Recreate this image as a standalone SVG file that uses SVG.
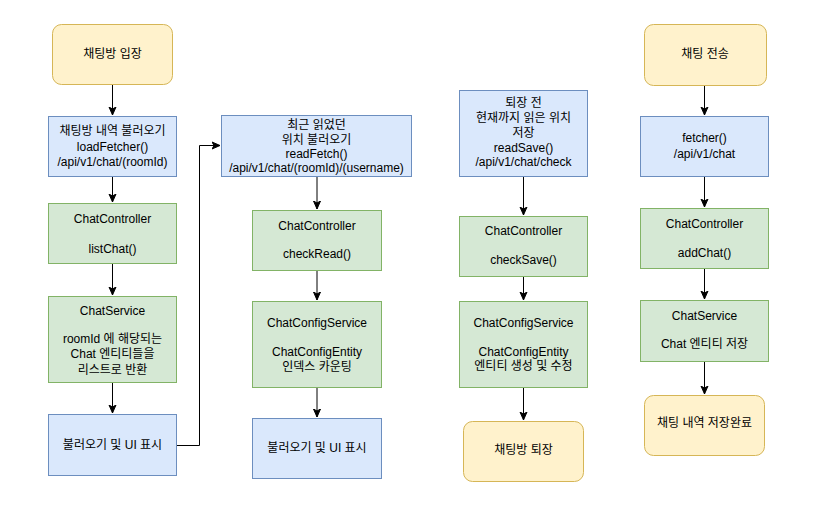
<svg xmlns="http://www.w3.org/2000/svg" width="814" height="518" viewBox="0 0 814 518">
<style>
.y{fill:#fff2cc;stroke:#d6b656;stroke-width:1}
.b{fill:#dae8fc;stroke:#6c8ebf;stroke-width:1}
.g{fill:#d5e8d4;stroke:#82b366;stroke-width:1}
text{font-family:"Liberation Sans","Noto Sans CJK KR",Arial,sans-serif;font-size:12px;fill:#000;text-anchor:middle}
.c{fill:none;stroke:#000;stroke-width:1}
</style>
<defs>
<marker id="ah" markerUnits="userSpaceOnUse" markerWidth="9" markerHeight="9" viewBox="0 0 9 9" refX="8.5" refY="4.5" orient="auto">
<path d="M0.5,1 L8.5,4.5 L0.5,8 L2.5,4.5 z" fill="#000" stroke="#000" stroke-width="1"/>
</marker>
</defs>
<rect width="814" height="518" fill="#fff"/>
<g id="connectors">
<path class="c" d="M112.5,84 V115" marker-end="url(#ah)"/>
<path class="c" d="M112.5,176 V202" marker-end="url(#ah)"/>
<path class="c" d="M112.5,263 V295" marker-end="url(#ah)"/>
<path class="c" d="M112.5,382 V413" marker-end="url(#ah)"/>
<path class="c" d="M176,445.5 H199.5 V145.5 H220" marker-end="url(#ah)"/>
<path class="c" d="M317,176 V209" marker-end="url(#ah)"/>
<path class="c" d="M317,270 V300" marker-end="url(#ah)"/>
<path class="c" d="M317,387 V417" marker-end="url(#ah)"/>
<path class="c" d="M523.5,176 V215" marker-end="url(#ah)"/>
<path class="c" d="M523.5,276 V300" marker-end="url(#ah)"/>
<path class="c" d="M523.5,387 V420" marker-end="url(#ah)"/>
<path class="c" d="M704.5,85 V115" marker-end="url(#ah)"/>
<path class="c" d="M704.5,176 V207" marker-end="url(#ah)"/>
<path class="c" d="M704.5,268 V299" marker-end="url(#ah)"/>
<path class="c" d="M704.5,361 V394" marker-end="url(#ah)"/>
</g>
<g id="n1"><rect class="y" x="52.5" y="24.5" width="120" height="60" rx="9"/><text x="112.5" y="58">채팅방 입장</text></g>
<g id="n2"><rect class="b" x="48.5" y="116.5" width="128" height="60"/><text x="112.5" y="135">채팅방 내역 불러오기</text><text x="112.5" y="150.5">loadFetcher()</text><text x="112.5" y="166">/api/v1/chat/(roomId)</text></g>
<g id="n3"><rect class="g" x="48.5" y="203.5" width="128" height="60"/><text x="112.5" y="223">ChatController</text><text x="112.5" y="253">listChat()</text></g>
<g id="n4"><rect class="g" x="48.5" y="296.5" width="128" height="86"/><text x="112.5" y="315">ChatService</text><text x="112.5" y="342.5">roomId 에 해당되는</text><text x="112.5" y="358">Chat 엔티티들을</text><text x="112.5" y="373.5">리스트로 반환</text></g>
<g id="n5"><rect class="b" x="48.5" y="414.5" width="128" height="61"/><text x="112.5" y="449">불러오기 및 UI 표시</text></g>
<g id="n6"><rect class="b" x="221.5" y="115.5" width="190" height="61"/><text x="316.5" y="128.5">최근 읽었던</text><text x="316.5" y="143.5">위치 불러오기</text><text x="316.5" y="157.5">readFetch()</text><text x="316.5" y="171.5">/api/v1/chat/(roomId)/(username)</text></g>
<g id="n7"><rect class="g" x="252.5" y="210.5" width="129" height="60"/><text x="317" y="230">ChatController</text><text x="317" y="258">checkRead()</text></g>
<g id="n8"><rect class="g" x="252.5" y="301.5" width="129" height="86"/><text x="317" y="327">ChatConfigService</text><text x="317" y="356">ChatConfigEntity</text><text x="317" y="370.5">인덱스 카운팅</text></g>
<g id="n9"><rect class="b" x="252.5" y="418.5" width="129" height="60"/><text x="317" y="452">불러오기 및 UI 표시</text></g>
<g id="n10"><rect class="b" x="459.5" y="90.5" width="128" height="86"/><text x="523.5" y="106.5">퇴장 전</text><text x="523.5" y="122">현재까지 읽은 위치</text><text x="523.5" y="137">저장</text><text x="523.5" y="151.5">readSave()</text><text x="523.5" y="166">/api/v1/chat/check</text></g>
<g id="n11"><rect class="g" x="459.5" y="216.5" width="128" height="60"/><text x="523.5" y="235">ChatController</text><text x="523.5" y="264">checkSave()</text></g>
<g id="n12"><rect class="g" x="459.5" y="301.5" width="128" height="86"/><text x="523.5" y="327">ChatConfigService</text><text x="523.5" y="356">ChatConfigEntity</text><text x="523.5" y="369.5">엔티티 생성 및 수정</text></g>
<g id="n13"><rect class="y" x="463.5" y="421.5" width="120" height="60" rx="9"/><text x="523.5" y="454">채팅방 퇴장</text></g>
<g id="n14"><rect class="y" x="644.5" y="24.5" width="122" height="61" rx="9"/><text x="705" y="58">채팅 전송</text></g>
<g id="n15"><rect class="b" x="640.5" y="116.5" width="128" height="60"/><text x="704.5" y="142">fetcher()</text><text x="704.5" y="158">/api/v1/chat</text></g>
<g id="n16"><rect class="g" x="640.5" y="208.5" width="128" height="60"/><text x="704.5" y="228">ChatController</text><text x="704.5" y="257">addChat()</text></g>
<g id="n17"><rect class="g" x="640.5" y="300.5" width="128" height="61"/><text x="704.5" y="320">ChatService</text><text x="704.5" y="348">Chat 엔티티 저장</text></g>
<g id="n18"><rect class="y" x="644.5" y="395.5" width="120" height="60" rx="9"/><text x="704.5" y="427">채팅 내역 저장완료</text></g>
</svg>
